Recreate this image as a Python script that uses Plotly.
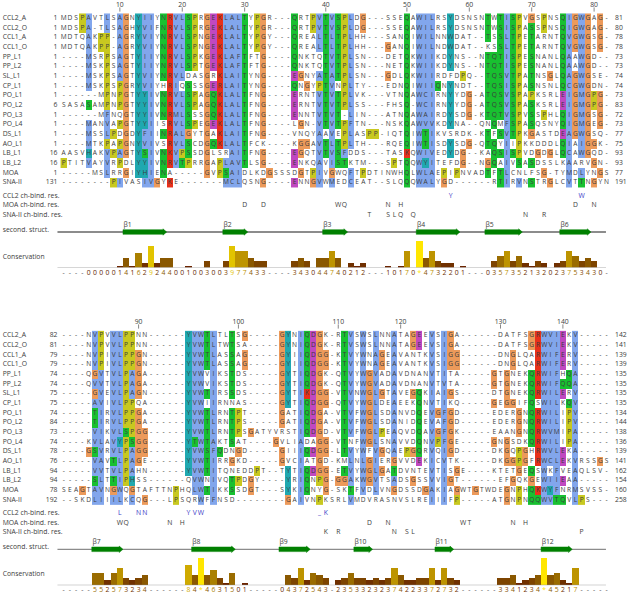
import plotly.graph_objects as go

names = ["CCL2_A","CCL2_O","CCL1_A","CCL1_O","PP_L1","PP_L2","SL_L1","CP_L1","PO_L1","PO_L2","PO_L3","PO_L4","DS_L1","AO_L1","LB_L1","LB_L2","MOA","SNA-II"]
starts_1 = [1,1,1,1,1,1,1,1,1,6,1,1,1,1,16,16,1,131]
ends_1 = [81,80,78,78,73,73,74,74,73,83,72,73,77,75,93,93,77,191]
seq_1 = [
"MDSPAVTLSAGNYIIYNRVLSPRGEKLALTYPGR---QRTPVTVSPLDG---SSEQAWILRSYDSNSNTWTISPVGSPNSQIGWGAG-",
"MDSPA-TLSAGHYVIFNRVLSPRGEKLALTYPGR---QRTPVTVSPLDG---SSEQAWILRSYDSNSNTWSISPASSPNSQIGWGAG-",
"MDTQAKPP-AGRYVIYNRVLSPNGEKLALTYPGY---QREALTLTPLHH---SANQIWILNNWDAT--TSSLTPETARNTQVGWGSG-",
"MDTQAKPP-AGRYVIYNRVLSPNGEKLALTYPGY---QREALTLTPLHH---GANQIWILNDWDAT--KSSLTPETARNTQVGWGSG-",
"----MSRPSAGTYIIYNRVLSPKGEKLAFTFTG----QNKTQTVTPLSN---DETQKWIIKDYNS--NTQTISPESNANLQAAWGD--",
"----MSKPSAGTYIIYNRVLSPTGEKLAFTFTG----QNKTQTVTPLSN---NETQKWIIKDYNS--NTQTISPESNANLQAAWGD--",
"----MSKPSAGTYVIYNRVLDASGRKLAITYNG----EGNYATATPLSN---GDLQKWIIRDFDPQ--TQSVTPATNSGLQAGWGSE-",
"----MSKPSPGRYVIYHRIQSSSGERLAITYNG----QNGYPTVNPLTY---EDNQIWIIQNYNDT--TQSISPASNSNLQCGWGDN-",
"------MPNPGTYYIVNRVLSPAGQKLALTFNG----ERNTVTVTPLVK---VTNQAWCIRNYYDG-ATQSVSPAPKSRLEIGMGPG-",
"SASASAMPNPGTYYIVNRVLSPAGQKLALTFNG----ERNTVTVTPLSS---FHSQ-WCIRNYYDG-ATQSVSPASKSRLEIGMGPG-",
"------MFNQGTYYIVNRMLSSSGQKLALTFNG----ENNTVTVT-LIN---ATNQAWAIRDYSDG-KTQTVSPVSSPHLQIGMGSG-",
"----MANVAPGTYYIISRVLSPEGEKLALTFNG----LGN-VTVTPFTN---NSKQAWVVKDYNA--QNQMFSPASQSNYQIGMGEG-",
"----MSSLPDGDYFIINRALGYTGAKLAITFNG----VNQYAAVEPLASPP-IQTQIWTIKVSRDK-KTFSVTPKGASTDEAGWGSQ-",
"----MTKPAPGNYVIVSRVLSCDGQKLALTFCK----KGGAVTLTPLTH---RQEQIWTISDYSDG-QTQYIIPKKDDDLQIAIGGK-",
"AASVHAKVPAGTYSIVNKVPSSDGLSRAITFNG----EGQTVTVSFDDS---TASKQWIVEDYDG--KAQSISPVDGDGLQCAWGQD-",
"PTITVAYVRPDLYYIVNRVTPRRGAPLAVTLSG----ENKQAVISTKTM---SPTQQWYITEFDG--NGQAIVSASDSSLKAARVGN-",
"-----MSLRRGIYHIENA-----GVPSAIDLKDGSSSDGTPIVGWQFTPDTINWHQLWLAEPIPNVADTFTLCNLFSG-TYMDLYNGS",
"--------PIVASIVGYKE-------MCLQSNG----ENNGVWMEDCEAT--SLQQQWALYGD------RTIRVNSTRGLCVTTNGYN",
]
starts_2 = [82,81,79,79,74,74,75,75,74,84,73,74,78,76,94,94,78,192]
ends_2 = [142,141,139,139,135,135,135,135,134,144,138,136,139,141,162,154,160,258]
seq_2 = [
"----NVPVVLPPNN------YVWTLTLTSG-----GYNIQDGK-RTVSWSLNNATAGEEVSIGA------DATFSGRWVIEKV-----",
"----NVPVVLPPNN------YVWTLTWTSA-----GYNIQDGK-RTVSWSLNNATAGEEVSIGA------DATFSGRWVIEKV-----",
"----NVPIVLPPGN------YVWTLASSAG-----GYIIQDGG-KTVYWNAGEAVANTKVSIGG------DNGLQARWIFERV-----",
"----NVPIVLPPGN------YVWTLASSAG-----GYIIQDGG-KTVYWNAGEAVANTKVSIGG------DNGLQARWIFERV-----",
"----QGVTVLPAGA------YVWVIKSTDS-----GYTIQDGK-QTVYWGVADAVDNANVTITA-----GTGNEKQRWIFHQA-----",
"----QVVTVLPAGA------YVWVIKSTDS-----GYTIQDGK-QTVYWGVADAVDNANVTVTA-----GTGNEKQRWIFQQA-----",
"-----GVEVLPAGN------YVWTIRSSDS-----GYTIKDGG-VTVNWGLGTAVEGQKIAIGS-----DTGNEKQRWILERV-----",
"-----AVIVLPPQA------YVWIIRNNAS-----GYTIQDGG-QTVYWGLDEAEEKQNVTIKQ-----GEGGIFQSWILKQV-----",
"-----TIRVLPPGA------YVWTLRNTPT-----GATIQDGA-VTVFWGLSDANVDQEVGFGD-----EDERGNQRWILIPV-----",
"-----TIRVLPPGA------YVWTLRNTPS-----GATIQDGA-VTVFWGLSDANIDQEVAFGD-----EDERGNQRWILIPV-----",
"-----VIKVLSPGG------YVWTLRNTPSGATYVRSTIQDGD-VTVFWGLPEAQVDQAVGFGK-----EAANGNQRWVMIPA-----",
"----KVLAVYPSGG------YTWTAKTSAT----GVLIADAGG-VTNFWGLSNAVVDQNVPFGE-----GNGSDKQRWILIPA-----",
"----GSVRVLPAGG------YVWSFQDNGD-----GIIIQDGG-LTVYWFVGQAEPGQRVQIGD-----DKGQPGHRWVLEKA-----",
"-----VAVTLPAGE------YVWTIRRGKD-----GVCIATGD-KMLNLGIERGVVDEKICVTK-----DKGGPGFRWCLEKVRSSGS",
"-----VVTVLPAHN------YVWTITQNEDDPT--TYTIQDGG-ETVYWGLGATDVNTEVTISGE----KTETGEQSWKFVEAQLSV-",
"-----SLTTIPHSS------QVWNIVQTPDGY----YRIQNPG-GGAKWGVTSADSGSSVVIGT------EFGQKGEWIIEAA-----",
"SEAGTAVNGWQGTAFTTNPHQLWTIKKSSDGT---SYKIQNYG-SKTFVDLVNGDSSDGAKIAGWTGTWDEGNPHQKWYFNRMSVSS-",
"--SKDLIIILKCQG---LPSQRWFFNSD--------GAIVNPKSRLVMDVRASNVSLREIIIFP-----ATGNPNQQWVTQVLPS---",
]
cons_1 = "----00000141629244001003003977433----343044740212---10170*4732201---0357352132023753430-"
cons_2 = "-----552573234------84*4631501-----04372543-23533232374223372732------3341234*45217-----"
annot_row_labels = ["CCL2 ch-bind. res.","MOA ch-bind. res.","SNA-II ch-bind. res."]
annot_1 = [[(63,"Y"),(84,"W")],
           [(30,"D"),(33,"D"),(45,"W"),(46,"Q"),(53,"N"),(55,"H"),(83,"D"),(86,"N")],
           [(50,"T"),(53,"S"),(54,"L"),(55,"Q"),(57,"Q"),(75,"N"),(78,"R")]]
annot_2 = [[(10,"L"),(13,"N"),(14,"N"),(21,"Y"),(22,"V"),(23,"W"),(42,"_"),(43,"K")],
           [(10,"W"),(11,"Q"),(18,"N"),(20,"H"),(50,"D"),(53,"N"),(65,"W"),(66,"T"),(73,"N"),(75,"H")],
           [(43,"K"),(45,"R"),(54,"N"),(56,"S"),(57,"L"),(84,"P")]]
strands_1 = [("β1",10,17),("β2",26,30),("β3",42,46),("β4",57,64),("β5",68,74),("β6",80,85)]
strands_2 = [("β7",5,10),("β8",21,28),("β9",35,40),("β10",47,50),("β11",60,63),("β12",77,82)]

PALETTE = {"-":"#ffffff","b":"#82a6ec","r":"#e8301a","m":"#c048c0","g":"#18c030","o":"#ec9a5a","y":"#c8c820","c":"#20a8b0","p":"#f08080"}
CODES = list(PALETTE)
CONS_COL = {"0":"#5e1a00","1":"#6b2400","2":"#703000","3":"#7d4400","4":"#8a5800","5":"#9a6c00","6":"#aa8000","7":"#bd9400","8":"#cfaa00","9":"#e2c400","*":"#ffe600","-":"#555555"}
HYD = set("WLVIMAFCHP")
FONT = "Open Sans"
LETTER = 6.6
LABEL = 6.8

def colour_grid(seqs):
    out = [[] for _ in seqs]
    for c in range(len(seqs[0])):
        col = [s[c] for s in seqs]
        n = len(col)
        f = lambda st: sum(a in st for a in col) / n
        hyd, kr, krq, de, qe, st = f(HYD), f("KR"), f("KRQ"), f("DE"), f("QE"), f("ST")
        for i, a in enumerate(col):
            k = "-"
            if a == "G": k = "o"
            elif a == "P": k = "y"
            elif a == "W" and f("HY") > .5: k = "c"
            elif a in "AILMFWVC": k = "b" if hyd > .62 else "-"
            elif a in "KR": k = "r" if (kr > .6 or krq > .8) else "-"
            elif a == "E": k = "m" if (f("E") >= .5 or qe > .5) else "-"
            elif a == "D": k = "m" if de > .5 else "-"
            elif a == "N": k = "g" if f("N") > .5 else "-"
            elif a == "Q": k = "g" if (krq > .6 or qe > .5) else "-"
            elif a in "ST": k = "g" if (st > .5 or hyd > .62) else "-"
            elif a in "HY": k = "c" if (hyd > .62 or f("HY") > .5) else "-"
            out[i].append(k)
    return out

X0, DX = 63.7, 6.24
W, H = 629, 596
xr = [1 - X0/DX, 1 + (W - X0)/DX]
px2k = lambda p: 1 + (p - X0)/DX
fig = go.Figure()
n = len(CODES)
cs = []
for i, k in enumerate(CODES):
    cs += [[i/n, PALETTE[k]], [(i+1)/n, PALETTE[k]]]

def block(seqs, starts, ends, cons, annots, strands, ya, yc, row0, base, ruler, dark):
    dy = 9.67
    rr = lambda p: (p - row0)/dy
    rows = list(range(len(seqs)))
    cols = list(range(1, len(seqs[0]) + 1))
    grid = colour_grid(seqs)
    z = [[CODES.index(k) + .5 for k in row] for row in grid]
    txt = "#3c3c3c"
    def label(x, y, t, pos="middle center", color=txt, size=LABEL):
        fig.add_trace(go.Scatter(x=x, y=y, text=t, mode="text", textposition=pos, textfont=dict(family=FONT, size=size, color=color), xaxis="x", yaxis=ya, hoverinfo="skip"))
    fig.add_trace(go.Heatmap(x=cols, y=rows, z=z, zmin=0, zmax=n, colorscale=cs, showscale=False, hoverinfo="skip", xaxis="x", yaxis=ya))
    xs, ys, ts = [], [], []
    for r, s in enumerate(seqs):
        for c, a in enumerate(s):
            xs.append(c + 1); ys.append(r); ts.append(a)
    label(xs, ys, ts, size=LETTER)
    nr = len(seqs)
    label([px2k(2.7)]*nr, rows, names, "middle right")
    label([px2k(57.5)]*nr, rows, [str(v) for v in starts], "middle left")
    label([px2k(615)]*nr, rows, [str(v) for v in ends], "middle right")
    num = starts[0] - 1
    rx, rt = [], []
    for c, a in enumerate(seqs[0]):
        if a != "-":
            num += 1
            if num % 10 == 0:
                rx.append(c + 1); rt.append(str(num))
    label(rx, [rr(ruler)]*len(rx), rt)
    fig.add_trace(go.Scatter(x=rx, y=[rr(ruler+4.5)]*len(rx), mode="markers", marker=dict(symbol="line-ns", size=3, line=dict(width=.7, color="#555")), xaxis="x", yaxis=ya))
    for j, (lbl, ann) in enumerate(zip(annot_row_labels, annots)):
        y = nr + .37 + j
        label([px2k(2.7)], [y], [lbl], "middle right")
        label([a[0] for a in ann], [y]*len(ann), [a[1] for a in ann], color="#3c3cc8" if j == 0 else txt)
    ss = rr(base - 36)
    fig.add_trace(go.Scatter(x=[.0, 87.9], y=[ss, ss], mode="lines", line=dict(color="#8c8c8c", width=2 if not dark else 1.3), xaxis="x", yaxis=ya))
    label([px2k(2.7)], [rr(base-37.5)], ["second. struct."], "middle right")
    label([px2k(2.7)], [rr(base-10.5)], ["Conservation"], "middle right")
    for lab, a, b in strands:
        h = .24; hh = .33; head = .6
        a2, b2 = a + .5, b + .5
        fig.add_trace(go.Scatter(x=[a2, b2-head, b2-head, b2, b2-head, b2-head, a2, a2], y=[ss-h, ss-h, ss-hh, ss, ss+hh, ss+h, ss+h, ss-h],
                                 mode="lines", fill="toself", fillcolor="#008000", line=dict(color="#008000", width=.5), xaxis="x", yaxis=ya))
        label([a2 + .1], [rr(base-43)], [lab], "middle right")
    vals = [None if v == "-" else (11 if v == "*" else int(v)) for v in cons]
    colors = [CONS_COL[v] for v in cons]
    fig.add_trace(go.Bar(x=cols, y=vals, width=1, marker=dict(color=colors, line=dict(width=0)), xaxis="x", yaxis=yc))
    fig.add_trace(go.Scatter(x=[.0, 87.9], y=[0, 0], mode="lines", line=dict(color="#c8c8c8" if not dark else "#909090", width=1.5 if not dark else 1), xaxis="x", yaxis=yc))
    label(cols, [rr(base+5.3)]*len(cols), list(cons), color=colors)

block(seq_1, starts_1, ends_1, cons_1, annot_1, strands_1, "y", "y3", 18.3, 268, 5, False)
block(seq_2, starts_2, ends_2, cons_2, annot_2, strands_2, "y2", "y4", 335.7, 585.3, 322, True)

dom = lambda a, b: [1 - b/H, 1 - a/H]
R = lambda p0, a, b: [(b - p0)/9.67, (a - p0)/9.67]
hidden = dict(visible=False, fixedrange=True)
fig.update_layout(
    width=W, height=H, margin=dict(l=0, r=0, t=0, b=0), showlegend=False,
    paper_bgcolor="white", plot_bgcolor="rgba(0,0,0,0)", bargap=0,
    xaxis=dict(range=xr, domain=[0, 1], **hidden),
    yaxis=dict(range=R(18.3, 0, 298), domain=dom(0, 298), **hidden),
    yaxis2=dict(range=R(335.7, 298, 596), domain=dom(298, 596), **hidden),
    yaxis3=dict(range=[0, 30/2.45], domain=dom(238, 268), **hidden),
    yaxis4=dict(range=[0, 30/2.45], domain=dom(555.3, 585.3), **hidden),
)
fig.write_html("out.html", config=dict(displayModeBar=False), post_script="document.body.style.margin='0';")
